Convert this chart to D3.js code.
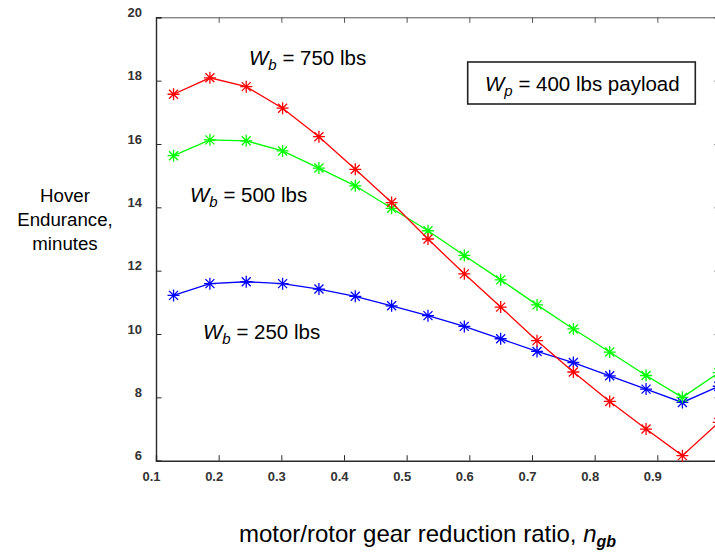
<!DOCTYPE html>
<html>
<head>
<meta charset="utf-8">
<script src="https://cdn.jsdelivr.net/npm/d3@7"></script>
<style>
  body { margin: 0; background: #fff; }
  svg { display: block; font-family: "Liberation Sans", Arial, sans-serif; }
</style>
</head>
<body>
<div id="plot"></div>
<script>
// gear reduction ratio (x) and hover endurance in minutes, one array per battery weight
const gearRatio = [0.128, 0.186, 0.244, 0.302, 0.360, 0.418, 0.476, 0.534,
                   0.592, 0.650, 0.708, 0.766, 0.824, 0.882, 0.940, 0.998];
const endurance750 = [17.57, 18.09, 17.81, 17.13, 16.23, 15.20, 14.15, 13.00,
                      11.90, 10.85, 9.79, 8.80, 7.87, 7.00, 6.16, 7.21];
const endurance500 = [15.63, 16.13, 16.10, 15.78, 15.24, 14.68, 13.97, 13.26,
                      12.48, 11.71, 10.92, 10.16, 9.43, 8.69, 8.00, 8.78];
const endurance250 = [11.22, 11.59, 11.65, 11.59, 11.42, 11.19, 10.89, 10.58,
                      10.24, 9.85, 9.45, 9.10, 8.68, 8.26, 7.84, 8.35];

const xTicks = [0.1, 0.2, 0.3, 0.4, 0.5, 0.6, 0.7, 0.8, 0.9, 1.0];
const xTickLabels = ["0.1", "0.2", "0.3", "0.4", "0.5", "0.6", "0.7", "0.8", "0.9"];
const yTicks = [6, 8, 10, 12, 14, 16, 18, 20];
const yTitle = ["Hover", "Endurance,", "minutes"];

window.addEventListener("load", main);

function main(){
  const width = 715, height = 552;

  let x = d3.scaleLinear().domain([0.1, 1.0]).range([156, 720]);
  let y = d3.scaleLinear().domain([6, 20]).range([460.7, 17.3]);

  let svg = d3.select('#plot')
    .append('svg')
    .attr('width', width)
    .attr('height', height)
    ;

  // box + ticks (matlab style, ticks pointing in on all four sides)
  let axisCol = '#2a2a2a';

  svg.append('g')
    .attr('transform', `translate(0,${y(6)})`)
    .call(d3.axisBottom(x).tickValues(xTicks).tickSize(-5.5).tickFormat(''))
    .call(g => g.select('.domain').attr('stroke', axisCol).attr('stroke-width', 1.4))
    .call(g => g.selectAll('.tick line').attr('stroke', axisCol));

  svg.append('g')
    .attr('transform', `translate(0,${y(20)})`)
    .call(d3.axisTop(x).tickValues(xTicks).tickSize(-5.5).tickFormat(''))
    .call(g => g.select('.domain').attr('stroke', '#555').attr('stroke-width', 1))
    .call(g => g.selectAll('.tick line').attr('stroke', '#555'));

  svg.append('g')
    .attr('transform', `translate(${x(0.1)},0)`)
    .call(d3.axisLeft(y).tickValues(yTicks).tickSize(-5.5).tickFormat(''))
    .call(g => g.select('.domain').attr('stroke', axisCol).attr('stroke-width', 1.4))
    .call(g => g.selectAll('.tick line').attr('stroke', axisCol));

  svg.append('g')
    .attr('transform', `translate(${x(1.0)},0)`)
    .call(d3.axisRight(y).tickValues(yTicks).tickSize(-5.5).tickFormat(''))
    .call(g => g.select('.domain').attr('stroke', axisCol))
    .call(g => g.selectAll('.tick line').attr('stroke', axisCol));

  // tick labels sit a little up/left of their ticks, like the exported figure
  svg.append('g')
    .selectAll('text')
    .data(xTickLabels)
    .join('text')
    .attr('x', d => x(+d) - 4.5)
    .attr('y', 481)
    .attr('text-anchor', 'middle')
    .attr('font-size', 13)
    .attr('font-weight', 'bold')
    .attr('fill', '#333')
    .text(d => d);

  svg.append('g')
    .selectAll('text')
    .data(yTicks)
    .join('text')
    .attr('x', 142)
    .attr('y', d => y(d) - 0.3)
    .attr('text-anchor', 'end')
    .attr('font-size', 13)
    .attr('font-weight', 'bold')
    .attr('fill', '#333')
    .text(d => d);

  // series
  let series = [
    {vals: endurance250, col: '#0000ff'},
    {vals: endurance500, col: '#00ff00'},
    {vals: endurance750, col: '#ff0000'}
  ];

  let line = d3.line()
    .x(d => x(d[0]))
    .y(d => y(d[1]));

  // asterisk marker: plus + cross
  let r = 6, rd = 4.5;
  let star = `M${-r},0L${r},0M0,${-r}L0,${r}M${-rd},${-rd}L${rd},${rd}M${-rd},${rd}L${rd},${-rd}`;

  series.forEach(s => {
    let pts = gearRatio.map((g, i) => [g, s.vals[i]]);
    svg.append('path')
      .attr('d', line(pts))
      .attr('fill', 'none')
      .attr('stroke', s.col)
      .attr('stroke-width', 1.3);
    svg.append('g')
      .selectAll('path')
      .data(pts)
      .join('path')
      .attr('transform', d => `translate(${x(d[0])},${y(d[1])})`)
      .attr('d', star)
      .attr('stroke', s.col)
      .attr('stroke-width', 1.3)
      .attr('fill', 'none');
  });

  // W_b labels
  function wLabel(px, py, sub, rest){
    let t = svg.append('text')
      .attr('x', px)
      .attr('y', py)
      .attr('font-size', 20.5)
      .attr('fill', '#000');
    t.append('tspan').attr('font-style', 'italic').text('W');
    t.append('tspan').attr('font-style', 'italic').attr('font-size', 15).attr('dy', 5).text(sub);
    t.append('tspan').attr('dy', -5).text(rest);
    return t;
  }
  wLabel(249, 65, 'b', ' = 750 lbs');
  wLabel(190, 201.5, 'b', ' = 500 lbs');
  wLabel(203, 338.5, 'b', ' = 250 lbs');

  svg.append('rect')
    .attr('x', 467.7)
    .attr('y', 62)
    .attr('width', 227.6)
    .attr('height', 42)
    .attr('fill', 'none')
    .attr('stroke', '#222')
    .attr('stroke-width', 1.6);
  wLabel(485, 91, 'p', ' = 400 lbs payload');

  // y title, three centred lines
  svg.append('g')
    .selectAll('text')
    .data(yTitle)
    .join('text')
    .attr('x', 65)
    .attr('y', (d, i) => 201.5 + i * 24.2)
    .attr('text-anchor', 'middle')
    .attr('font-size', 18.7)
    .text(d => d);

  // x title
  let xt = svg.append('text')
    .attr('x', 239)
    .attr('y', 542)
    .attr('font-size', 24);
  xt.append('tspan').text('motor/rotor gear reduction ratio, ');
  xt.append('tspan').attr('font-style', 'italic').text('n');
  xt.append('tspan').attr('font-style', 'italic').attr('font-weight', 'bold')
    .attr('font-size', 16).attr('dy', 5).text('gb');
}
</script>
</body>
</html>
